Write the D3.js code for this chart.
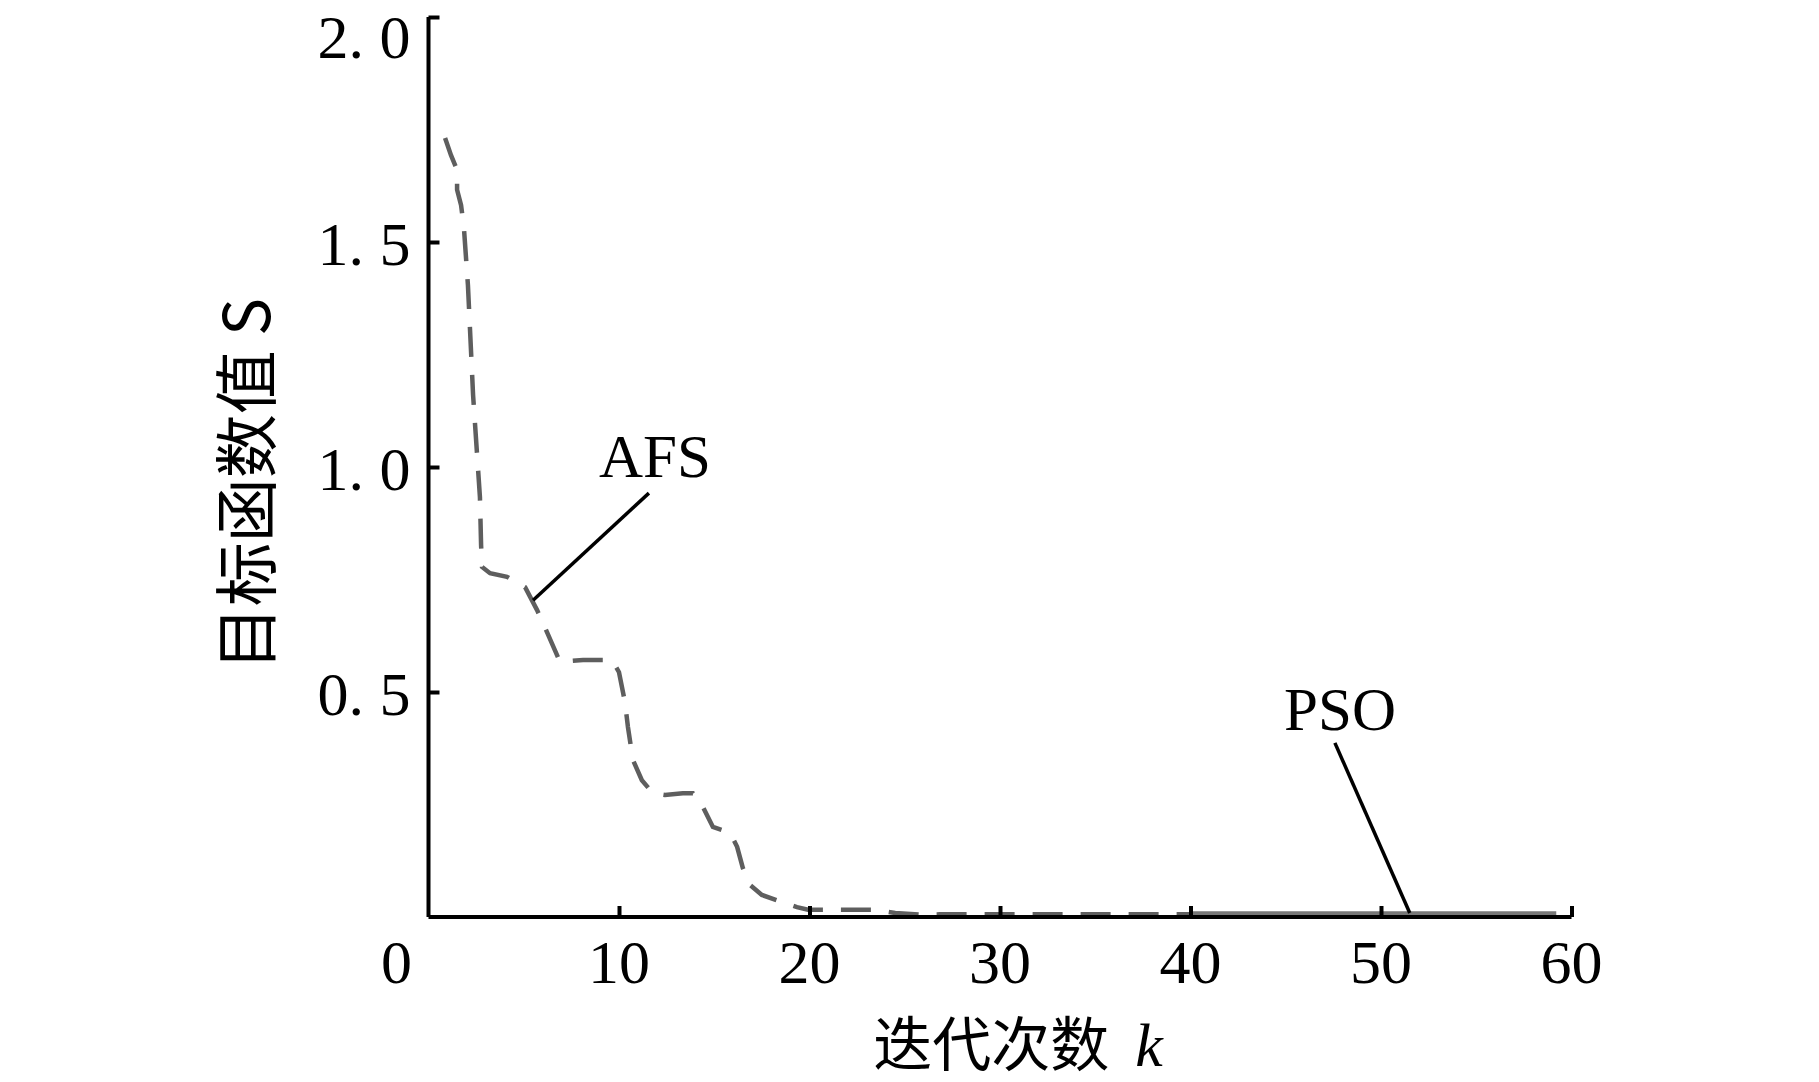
<!DOCTYPE html>
<html>
<head>
<meta charset="utf-8">
<script src="https://cdn.jsdelivr.net/npm/d3@7"></script>
<style>
  html, body { margin: 0; padding: 0; background: #fff; }
  svg { display: block; }
  .serif { font-family: "Liberation Serif", Tinos, "Times New Roman", "DejaVu Serif", serif; }
  .cjk { font-family: "Noto Sans CJK SC", "Noto Sans CJK JP", sans-serif; }
</style>
</head>
<body>
<svg id="chart" width="1819" height="1082"></svg>
<script>
// ---- data ----
const xTicks = [10, 20, 30, 40, 50, 60];
const yTicks = [0.5, 1.0, 1.5, 2.0];
const yTickLabels = ["0. 5", "1. 0", "1. 5", "2. 0"];
const originLabel = "0";

// AFS convergence curve (iteration k, objective S)
const afsK = [0.87, 1.18, 1.50, 1.50, 1.71, 1.86, 2.07, 2.34, 2.70, 2.76, 2.81, 3.23, 4.12, 5.07, 5.70, 6.22, 6.90, 8.11, 9.63, 10.0, 10.31, 10.47, 10.73, 11.2, 11.78, 12.41, 13.35, 13.88, 14.4, 14.93, 15.83, 16.2, 16.5, 16.88, 17.5, 18.56, 19.34, 19.92, 21.23, 21.97, 23.44, 24.5, 25.9, 26.85, 38.9, 40.0];
const afsS = [1.731, 1.693, 1.660, 1.616, 1.582, 1.531, 1.404, 1.160, 0.933, 0.827, 0.778, 0.764, 0.756, 0.733, 0.682, 0.633, 0.567, 0.571, 0.571, 0.544, 0.478, 0.422, 0.349, 0.304, 0.275, 0.271, 0.275, 0.275, 0.245, 0.200, 0.187, 0.156, 0.109, 0.071, 0.049, 0.033, 0.022, 0.016, 0.016, 0.016, 0.016, 0.009, 0.005, 0.006, 0.006, 0.006];

// PSO curve (visible part, near zero)
const psoK = [40.0, 59.2];
const psoS = [0.008, 0.008];

// annotation labels with leader lines (data units)
const annLabels = ["AFS", "PSO"];
const annTextK = [11.89, 47.85];
const annTextS = [0.978, 0.4156];
const annLineK1 = [11.57, 47.58];
const annLineS1 = [0.942, 0.387];
const annLineK2 = [5.49, 51.51];
const annLineS2 = [0.704, 0.009];

const xTitle = "迭代次数";
const xTitleVar = "k";
const yTitle = "目标函数值 S";

// ---- drawing ----
const svg = d3.select("#chart");
svg.append("rect").attr("width", 1819).attr("height", 1082).attr("fill", "#fff");

const x = d3.scaleLinear().domain([0, 60]).range([428.5, 1571.5]);
const y = d3.scaleLinear().domain([0, 2]).range([917, 17]);

// curves
const line = d3.line().x(d => x(d[0])).y(d => y(d[1]));
const afs = afsK.map((k, i) => [k, afsS[i]]);
const pso = psoK.map((k, i) => [k, psoS[i]]);

svg.append("path")
  .datum(afs)
  .attr("d", line)
  .attr("fill", "none")
  .attr("stroke", "#5e5e5e")
  .attr("stroke-width", 4.5)
  .attr("stroke-dasharray", "30,18");

svg.append("path")
  .datum(pso)
  .attr("d", line)
  .attr("fill", "none")
  .attr("stroke", "#777")
  .attr("stroke-width", 4.5);

// axes
const xAxis = d3.axisTop(x).tickValues(xTicks).tickSize(11).tickFormat("");
const gx = svg.append("g").attr("transform", `translate(0,${y(0)})`).call(xAxis);
gx.select(".domain").attr("d", `M${x(0)},0H${x(60)}`).attr("stroke", "#000").attr("stroke-width", 4);
gx.selectAll(".tick line").attr("stroke", "#000").attr("stroke-width", 4);

const yAxis = d3.axisRight(y).tickValues(yTicks).tickSize(11).tickFormat("");
const gy = svg.append("g").attr("transform", `translate(${x(0)},0)`).call(yAxis);
gy.select(".domain").attr("d", `M0,${y(2)}V${y(0)}`).attr("stroke", "#000").attr("stroke-width", 4);
gy.selectAll(".tick line").attr("stroke", "#000").attr("stroke-width", 4);

// x tick labels
svg.append("g").selectAll("text")
  .data(xTicks)
  .join("text")
  .attr("class", "serif")
  .attr("x", d => x(d))
  .attr("y", y(0) + 66)
  .attr("text-anchor", "middle")
  .attr("font-size", 62)
  .attr("fill", "#000")
  .text(d => d);

// origin label
svg.append("text")
  .attr("class", "serif")
  .attr("x", x(0) - 32)
  .attr("y", y(0) + 66)
  .attr("text-anchor", "middle")
  .attr("font-size", 62)
  .attr("fill", "#000")
  .text(originLabel);

// y tick labels
svg.append("g").selectAll("text")
  .data(yTicks)
  .join("text")
  .attr("class", "serif")
  .attr("x", x(0) - 18)
  .attr("y", d => Math.max(y(d) + 23, 58))
  .attr("text-anchor", "end")
  .attr("font-size", 62)
  .attr("fill", "#000")
  .text((d, i) => yTickLabels[i]);

// annotations
annLabels.forEach((lab, i) => {
  svg.append("line")
    .attr("x1", x(annLineK1[i])).attr("y1", y(annLineS1[i]))
    .attr("x2", x(annLineK2[i])).attr("y2", y(annLineS2[i]))
    .attr("stroke", "#000").attr("stroke-width", 3.5);
  svg.append("text")
    .attr("class", "serif")
    .attr("x", x(annTextK[i]))
    .attr("y", y(annTextS[i]))
    .attr("text-anchor", "middle")
    .attr("font-size", 61)
    .attr("fill", "#000")
    .text(lab);
});

// x title
const xt = svg.append("text")
  .attr("x", 1018)
  .attr("y", 1066)
  .attr("text-anchor", "middle")
  .attr("fill", "#000");
xt.append("tspan").attr("class", "cjk").attr("font-size", 59).text(xTitle);
xt.append("tspan").attr("class", "serif").attr("font-style", "italic").attr("font-size", 62).attr("dx", 26).text(xTitleVar);

// y title
svg.append("text")
  .attr("class", "cjk")
  .attr("transform", "translate(242,484) rotate(-90)")
  .attr("text-anchor", "middle")
  .attr("dominant-baseline", "central")
  .attr("font-size", 64)
  .attr("fill", "#000")
  .text(yTitle);
</script>
</body>
</html>
